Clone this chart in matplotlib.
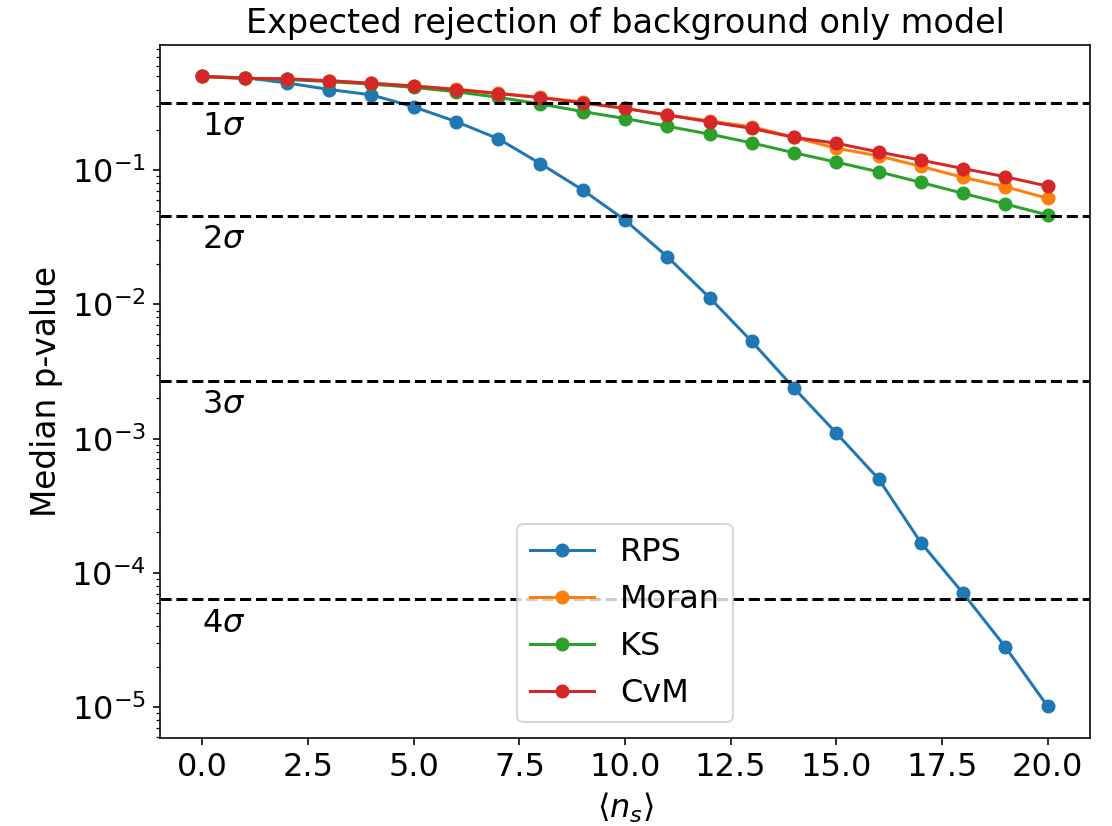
import matplotlib
matplotlib.use("Agg")
import matplotlib.pyplot as plt
import numpy as np

plt.rcParams["font.size"] = 16

ns = list(range(0, 21))

# median p-values
rps = [0.50, 0.49, 0.448, 0.40, 0.365, 0.297, 0.231, 0.172, 0.112, 0.0713, 0.0426,
       0.0227, 0.01124, 0.0053, 0.00238, 0.00110, 0.000501, 0.000168, 7.03e-5, 2.80e-5, 1.01e-5]
moran = [0.50, 0.485, 0.48, 0.465, 0.445, 0.426, 0.402, 0.375, 0.35, 0.322, 0.289,
         0.259, 0.233, 0.211, 0.176, 0.146, 0.128, 0.107, 0.0885, 0.0754, 0.0618]
ks = [0.50, 0.485, 0.475, 0.458, 0.438, 0.415, 0.385, 0.35, 0.312, 0.274, 0.243,
      0.213, 0.186, 0.160, 0.135, 0.115, 0.0975, 0.0812, 0.0673, 0.0561, 0.0464]
cvm = [0.50, 0.485, 0.48, 0.465, 0.445, 0.424, 0.40, 0.373, 0.348, 0.318, 0.289,
       0.258, 0.230, 0.205, 0.176, 0.159, 0.137, 0.119, 0.103, 0.0895, 0.0762]

# two-sided p-values for 1..4 sigma
sig_names = ["$1\\sigma$", "$2\\sigma$", "$3\\sigma$", "$4\\sigma$"]
sig_p = [0.3173, 0.0455, 0.0027, 6.334e-5]

fig = plt.figure(figsize=(1112 / 144, 826 / 144), dpi=144)
ax = fig.add_axes([160 / 1112, 1 - 738 / 826, 930 / 1112, 693 / 826])

ax.plot(ns, rps, "o-", label="RPS")
ax.plot(ns, moran, "o-", label="Moran")
ax.plot(ns, ks, "o-", label="KS")
ax.plot(ns, cvm, "o-", label="CvM")
ax.set_yscale("log")

for name, p in zip(sig_names, sig_p):
    ax.axhline(p, color="k", linestyle="--")
    ax.text(0, p * 0.87, name, va="top")

ax.set_title("Expected rejection of background only model", fontsize=16.7)
ax.set_xlabel("$\\langle n_s \\rangle$")
ax.set_ylabel("Median p-value", fontsize=16.4)
ax.legend(loc="lower center")

fig.savefig("out.png", dpi=144)
